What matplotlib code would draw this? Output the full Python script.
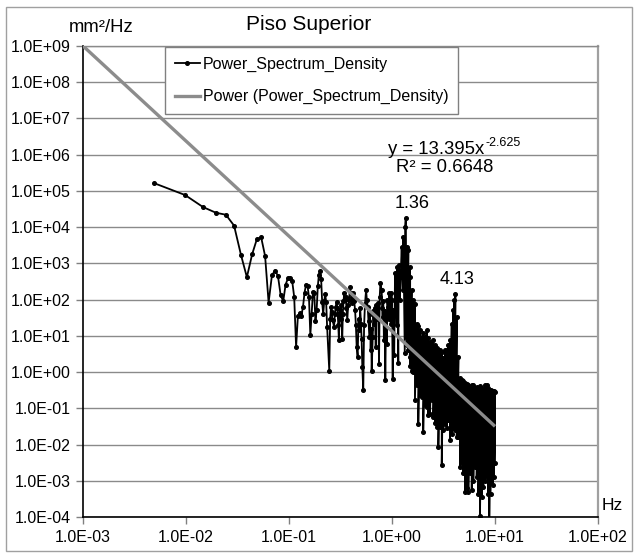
import matplotlib
matplotlib.use("Agg")
import matplotlib.pyplot as plt
from matplotlib.lines import Line2D
from matplotlib.patches import Rectangle
import numpy as np

plt.rcParams['font.family'] = ['Liberation Sans', 'DejaVu Sans']

# ---------------- data ----------------
# low-frequency part of the spectrum (Hz, mm^2/Hz)
low_freq = [0.0049, 0.0098, 0.0146, 0.0195, 0.0244, 0.0293, 0.0342, 0.0390,
            0.0439, 0.0488, 0.0537, 0.0586, 0.0634, 0.0683, 0.0732, 0.0781,
            0.0830, 0.0879, 0.0927, 0.0976, 0.1025, 0.1074, 0.1123, 0.1172,
            0.1220, 0.1269, 0.1318, 0.1367, 0.1416, 0.1465, 0.1513, 0.1562,
            0.1611, 0.1660, 0.1709, 0.1758, 0.1806, 0.1855, 0.1904, 0.1953,
            0.2002, 0.2051, 0.2099, 0.2148, 0.2197, 0.2246, 0.2295, 0.2344]
low_psd = [1.64e5, 7.7e4, 3.6e4, 2.5e4, 2.2e4, 1.1e4, 1.7e3, 416,
           1.8e3, 4.7e3, 5.2e3, 1.6e3, 83, 472, 635, 452,
           132, 90, 261, 383, 407, 324, 119, 4.9,
           35, 43, 35, 63, 157, 261, 240, 119,
           10.4, 41, 163, 157, 25, 51, 234, 493,
           610, 366, 86, 39, 90, 141, 86, 18]

# middle part (individual spikes)
mid_freq = [0.246, 0.251, 0.256, 0.260, 0.265, 0.274, 0.279, 0.284, 0.290, 0.293,
            0.297, 0.301, 0.305, 0.309, 0.313, 0.318, 0.322, 0.329, 0.333, 0.338,
            0.344, 0.349, 0.355, 0.361, 0.368, 0.375, 0.383, 0.391, 0.398, 0.406,
            0.413, 0.421, 0.430, 0.438, 0.446, 0.454, 0.464, 0.473, 0.482, 0.491,
            0.500, 0.507, 0.515, 0.526, 0.536, 0.547, 0.560, 0.570, 0.581, 0.592,
            0.603, 0.612, 0.621, 0.628, 0.635, 0.650, 0.659, 0.668, 0.681, 0.695,
            0.707, 0.720, 0.734, 0.748, 0.760, 0.771, 0.794, 0.802, 0.811, 0.823,
            0.835, 0.848, 0.861, 0.875, 0.889, 0.901, 0.914, 0.928, 0.942, 0.957,
            0.973, 0.986, 1.000, 1.016, 1.030, 1.050, 1.070, 1.094, 1.110, 1.125,
            1.151, 1.161, 1.186, 1.213, 1.242, 1.270, 1.288, 1.330, 1.343, 1.360,
            1.387]
mid_psd = [1.1, 30, 63, 45, 27, 17.6, 40, 63, 86, 60,
           41, 20, 7.6, 35, 51, 70, 30, 8.4, 40, 90,
           148, 100, 119, 60, 27, 70, 96, 224, 150, 119,
           80, 148, 90, 51, 20, 4.9, 2.6, 30, 14.3, 60,
           21.9, 8, 1.38, 0.314, 20, 78, 182, 100, 63, 25,
           9.3, 40, 4.0, 15, 1.1, 9.3, 50, 21.9, 60, 4.9,
           70, 30, 80, 1.72, 120, 279, 182, 60, 33, 90,
           7.6, 50, 0.59, 40, 6.1, 100, 63, 30, 148, 80,
           21.9, 150, 96, 0.66, 51, 3.0, 526, 182, 20, 800,
           1.75, 891, 96, 424, 2860, 182, 5400, 3.3, 10200, 17400,
           8.6]

# dense high-frequency part: local maxima / minima per narrow band
dense_freq = [1.40, 1.44, 1.49, 1.50, 1.55, 1.61, 1.67, 1.74, 1.80, 1.87,
              1.94, 2.01, 2.09, 2.17, 2.25, 2.34, 2.43, 2.52, 2.61, 2.72,
              2.82, 2.92, 3.04, 3.15, 3.27, 3.40, 3.52, 3.66, 3.80, 3.94,
              4.02, 4.12, 4.25, 4.41, 4.57, 4.75, 4.92, 5.11, 5.31, 5.51,
              5.72, 5.94, 6.16, 6.40, 6.64, 6.89, 7.15, 7.43, 7.70, 8.00,
              8.30, 8.61, 8.80, 9.05, 9.50, 9.75, 10.0]
dense_hi = [2860, 2320, 800, 424, 182, 96, 78, 21.9, 18.4, 14.3,
            9.3, 11.8, 9.3, 14.3, 8.6, 6.8, 5.5, 7.6, 5.5, 4.5,
            4.0, 4.0, 3.5, 2.4, 4.0, 4.0, 5.5, 7.6, 21.9, 51,
            96, 141, 33, 2.6, 0.67, 0.59, 0.56, 0.49, 0.48, 0.43,
            0.39, 0.43, 0.43, 0.36, 0.38, 0.33, 0.41, 0.36, 0.33, 0.43,
            0.43, 0.36, 0.33, 0.33, 0.31, 0.31, 0.28]
dense_lo = [5.5, 4.0, 2.6, 1.5, 1.1, 1.0, 0.166, 0.43, 0.038, 0.23,
            0.205, 0.022, 0.121, 0.109, 0.064, 0.071, 0.166, 0.058, 0.04, 0.030,
            0.0085, 0.030, 0.0027, 0.025, 0.038, 0.028, 0.047, 0.013, 0.020, 0.030,
            0.028, 0.025, 0.016, 0.016, 0.0024, 0.0030, 0.0016, 0.00049, 0.00062, 0.00049,
            0.0016, 0.00054, 0.0010, 0.0024, 0.0013, 0.00044, 0.00011, 0.00035, 0.00067, 0.0010,
            0.0013, 0.00044, 0.00008, 0.00044, 0.00075, 0.0013, 0.0030]

# power-law trendline  y = a * x^b
trend_a = 13.395
trend_b = -2.625
trend_r2 = 0.6648
peak_labels = ["1.36", "4.13"]

y_tick_labels = ["1.0E-04", "1.0E-03", "1.0E-02", "1.0E-01", "1.0E+00", "1.0E+01",
                 "1.0E+02", "1.0E+03", "1.0E+04", "1.0E+05", "1.0E+06", "1.0E+07",
                 "1.0E+08", "1.0E+09"]
x_tick_labels = ["1.0E-03", "1.0E-02", "1.0E-01", "1.0E+00", "1.0E+01", "1.0E+02"]

# ---------------- build series ----------------
xs = list(low_freq) + list(mid_freq)
ys = list(low_psd) + list(mid_psd)
for f, h, l in zip(dense_freq, dense_hi, dense_lo):
    xs += [f, f]
    ys += [h, l]

W, H = 638, 557
fig = plt.figure(figsize=(W / 100, H / 100), dpi=100)
ax = fig.add_axes([83 / W, 1 - 517 / H, (598 - 83) / W, (517 - 46) / H])

ax.set_xscale('log')
ax.set_yscale('log')
ax.set_xlim(1e-3, 1e2)
ax.set_ylim(1e-4, 1e9)

yt = [10.0 ** e for e in range(-4, 10)]
xt = [10.0 ** e for e in range(-3, 3)]
for v in yt:
    ax.axhline(v, color='#8a8a8a', lw=1.0, zorder=0)

data_line, = ax.plot(xs, ys, color='black', lw=1.3, marker='o', ms=2.6,
                     mfc='black', mec='black', zorder=2)

tx = np.array([1e-3, max(xs)])
trend_line, = ax.plot(tx, trend_a * tx ** trend_b, color='#8c8c8c', lw=2.4, zorder=3,
                      solid_capstyle='butt')

ax.set_yticks(yt)
ax.set_yticklabels(y_tick_labels)
ax.set_xticks(xt)
ax.set_xticklabels(x_tick_labels)
ax.minorticks_off()
ax.tick_params(axis='both', direction='out', length=5, width=1, color='#808080',
               labelsize=11.5, pad=4)

for s in ['left', 'bottom']:
    ax.spines[s].set_color('black')
    ax.spines[s].set_linewidth(1.2)
ax.spines['top'].set_color('#8a8a8a')
ax.spines['top'].set_linewidth(1.0)
ax.spines['right'].set_color('#a0a0a0')
ax.spines['right'].set_linewidth(1.6)

# legend
h1 = Line2D([], [], color='black', lw=1.3, marker='o', ms=2.6)
h2 = Line2D([], [], color='#8c8c8c', lw=2.4)
leg = fig.legend([h1, h2], ['Power_Spectrum_Density', 'Power (Power_Spectrum_Density)'],
                 loc='upper left', bbox_to_anchor=(165 / W, 1 - 47 / H),
                 fontsize=11.5, frameon=True, fancybox=False, framealpha=1,
                 edgecolor='#808080', borderpad=0.6, labelspacing=1.1,
                 handlelength=1.6, handletextpad=0.15, borderaxespad=0)
leg.get_frame().set_linewidth(1.0)

# texts
fig.text(309 / W, 1 - 25 / H, 'Piso Superior', ha='center', va='center', fontsize=15)
fig.text(69 / W, 1 - 27 / H, 'mm²/Hz', ha='left', va='center', fontsize=13.3)
fig.text(602 / W, 1 - 505 / H, 'Hz', ha='left', va='center', fontsize=12.5)
fig.text(484 / W, 1 - 150 / H, f'y = {trend_a}x', ha='right', va='center', fontsize=13.3)
fig.text(485 / W, 1 - 143 / H, f'{trend_b}', ha='left', va='center', fontsize=9)
fig.text(445 / W, 1 - 167 / H, f'R² = {trend_r2}', ha='center', va='center', fontsize=13.3)
fig.text(412 / W, 1 - 203 / H, peak_labels[0], ha='center', va='center', fontsize=13)
fig.text(457 / W, 1 - 280 / H, peak_labels[1], ha='center', va='center', fontsize=13)

# outer chart border
fig.add_artist(Rectangle((6 / W, 6 / H), (632 - 6) / W, (551 - 7) / H,
                         transform=fig.transFigure, fill=False, ec='#a0a0a0', lw=1.0))

fig.savefig('out.png', dpi=100)
